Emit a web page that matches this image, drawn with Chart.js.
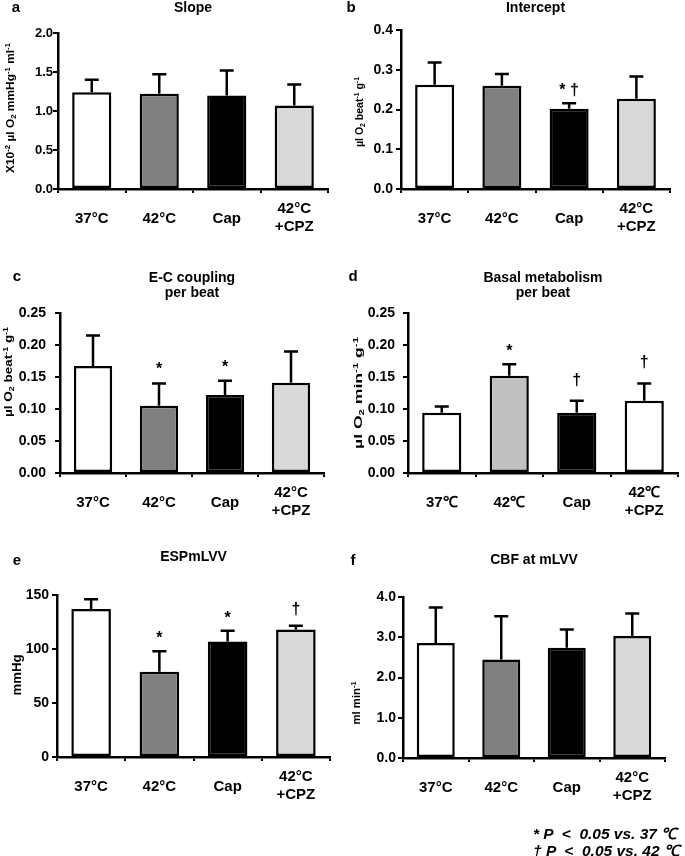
<!DOCTYPE html>
<html>
<head>
<meta charset="utf-8">
<script src="https://cdn.jsdelivr.net/npm/chart.js@4.4.1/dist/chart.umd.min.js"></script>
<style>
  html, body { margin: 0; padding: 0; background: #fff; }
  #wrap { position: relative; width: 685px; height: 856px; overflow: hidden; }
  canvas { position: absolute; }
  .note { position: absolute; left: 533px; font: italic bold 15.5px "Liberation Sans", Arial, sans-serif; white-space: pre; color: #000; }
</style>
</head>
<body>
<div id="wrap">
  <canvas id="cA"></canvas>
  <canvas id="cB"></canvas>
  <canvas id="cC"></canvas>
  <canvas id="cD"></canvas>
  <canvas id="cE"></canvas>
  <canvas id="cF"></canvas>
  <div class="note" style="top:822px">* P  &lt;  0.05 vs. 37 ℃</div>
  <div class="note" style="top:839px">† P  &lt;  0.05 vs. 42 ℃</div>
</div>
<script>
// groups
const categories = ['37°C', '42°C', 'Cap', ['42°C', '+CPZ']];
const categoriesD = ['37℃', '42℃', 'Cap', ['42℃', '+CPZ']];

// a: Slope
const slopeMean = [1.24, 1.22, 1.20, 1.07];
const slopeSD = [0.16, 0.25, 0.32, 0.27];
// b: Intercept
const interceptMean = [0.262, 0.260, 0.202, 0.227];
const interceptSD = [0.056, 0.029, 0.014, 0.056];
const interceptMarks = ['', '', '* †', ''];
// c: E-C coupling per beat
const ecMean = [0.167, 0.105, 0.122, 0.141];
const ecSD = [0.048, 0.035, 0.022, 0.049];
const ecMarks = ['', '*', '*', ''];
// d: Basal metabolism per beat
const basalMean = [0.094, 0.152, 0.094, 0.113];
const basalSD = [0.010, 0.018, 0.019, 0.027];
const basalMarks = ['', '*', '†', '†'];
// e: ESPmLVV
const espMean = [137, 79, 107, 118];
const espSD = [9, 19, 10, 3.5];
const espMarks = ['', '*', '*', '†'];
// f: CBF at mLVV
const cbfMean = [2.86, 2.45, 2.74, 3.03];
const cbfSD = [0.88, 1.07, 0.45, 0.56];

// fills
const fillStd = ['#ffffff', '#808080', '#000000', '#d9d9d9'];
const fillD = ['#ffffff', '#c0c0c0', '#000000', '#ffffff'];

const FONT = '"Liberation Sans", Arial, sans-serif';

// "a^{-1}" = superscript, "O_{2}" = subscript
function parseRich(str) {
    const segs = [];
    const re = /([\^_])\{([^}]*)\}|([^\^_]+)/g;
    let m;
    while ((m = re.exec(str)) !== null) {
        if (m[3]) segs.push({ t: m[3], k: 0 });
        else segs.push({ t: m[2], k: m[1] === '^' ? 1 : -1 });
    }
    return segs;
}

function drawRich(ctx, str, size, len) {
    const segs = parseRich(str);
    const small = size * 0.65;
    let w = 0;
    segs.forEach(s => {
        ctx.font = 'bold ' + (s.k ? small : size) + 'px ' + FONT;
        s.w = ctx.measureText(s.t).width;
        w += s.w;
    });
    ctx.scale(len / w, 1);
    ctx.textAlign = 'left';
    ctx.textBaseline = 'alphabetic';
    let x = -w / 2;
    const base = size * 0.36;
    segs.forEach(s => {
        ctx.font = 'bold ' + (s.k ? small : size) + 'px ' + FONT;
        const dy = s.k === 1 ? -size * 0.38 : s.k === -1 ? size * 0.2 : 0;
        ctx.fillText(s.t, x, base + dy);
        x += s.w;
    });
}

// draws error bars, markers, titles and x labels on each panel
const panelText = {
    id: 'panelText',
    afterDatasetsDraw(chart, args, o) {
        const p = o.p;
        const ctx = chart.ctx;
        const ys = chart.scales.y;
        const meta = chart.getDatasetMeta(0);
        ctx.save();
        ctx.strokeStyle = '#000';
        ctx.lineWidth = 2.5;
        p.mean.forEach((m, i) => {
            const x = meta.data[i].x;
            const yb = ys.getPixelForValue(m);
            const yt = ys.getPixelForValue(m + p.sd[i]);
            ctx.beginPath();
            ctx.moveTo(x, yb);
            ctx.lineTo(x, yt);
            ctx.moveTo(x - 7, yt);
            ctx.lineTo(x + 7, yt);
            ctx.stroke();
            const mk = p.marks ? p.marks[i] : '';
            if (mk) {
                ctx.fillStyle = '#000';
                ctx.font = 'bold 16px ' + FONT;
                ctx.textAlign = 'center';
                ctx.textBaseline = 'alphabetic';
                const gap = mk === '*' ? p.gapStar : p.gapDag;
                ctx.fillText(mk, x, yt - gap);
            }
        });
        ctx.restore();
    },
    afterDraw(chart, args, o) {
        const p = o.p;
        const ctx = chart.ctx;
        const area = chart.chartArea;
        const meta = chart.getDatasetMeta(0);
        ctx.save();
        ctx.fillStyle = '#000';
        ctx.textAlign = 'center';
        ctx.textBaseline = 'middle';
        // panel letter
        ctx.font = 'bold 15px ' + FONT;
        ctx.fillText(p.letter, p.letterX - p.x0, p.letterY - p.y0);
        // title
        ctx.font = 'bold 14px ' + FONT;
        const cx = (area.left + area.right) / 2;
        p.title.forEach((t, k) => ctx.fillText(t, cx, p.titleY - p.y0 + k * 15));
        // x labels
        ctx.font = 'bold 15px ' + FONT;
        p.labels.forEach((lab, i) => {
            const x = meta.data[i].x;
            if (Array.isArray(lab)) {
                ctx.fillText(lab[0], x, area.bottom + 20);
                ctx.fillText(lab[1], x, area.bottom + 38);
            } else {
                ctx.fillText(lab, x, area.bottom + 30);
            }
        });
        // y title
        ctx.translate(p.yTitleX - p.x0, p.yTitleY - p.y0);
        ctx.rotate(-Math.PI / 2);
        drawRich(ctx, p.yTitle, p.yTitleSize, p.yTitleLen);
        ctx.restore();
    }
};

function makePanel(id, p) {
    const cv = document.getElementById(id);
    cv.width = p.w;
    cv.height = p.h;
    cv.style.left = p.x0 + 'px';
    cv.style.top = p.y0 + 'px';
    const xAxisH = 6;
    new Chart(cv, {
        type: 'bar',
        data: {
            labels: p.labels.map(l => Array.isArray(l) ? l.join(' ') : l),
            datasets: [{
                data: p.mean,
                backgroundColor: p.fill,
                borderColor: '#000',
                borderWidth: 2.5,
                borderSkipped: false,
                barPercentage: 0.58,
                categoryPercentage: 1
            }]
        },
        options: {
            responsive: false,
            animation: false,
            devicePixelRatio: 1,
            layout: {
                autoPadding: false,
                padding: {
                    left: 0,
                    top: p.area.t - p.y0,
                    right: p.x0 + p.w - p.area.r,
                    bottom: p.y0 + p.h - p.area.b - xAxisH
                }
            },
            plugins: {
                legend: { display: false },
                tooltip: { enabled: false },
                panelText: { p: p }
            },
            scales: {
                x: {
                    afterFit: s => { s.height = xAxisH; },
                    border: { display: true, color: '#000', width: 2.5 },
                    grid: { offset: true, drawOnChartArea: false, tickLength: 4, color: '#000', lineWidth: 2 },
                    ticks: { display: false }
                },
                y: {
                    min: p.min,
                    max: p.max,
                    afterFit: s => { s.width = p.area.l - p.x0; },
                    border: { display: true, color: '#000', width: 2.5 },
                    grid: { drawOnChartArea: false, tickLength: 5, color: '#000', lineWidth: 2 },
                    ticks: {
                        stepSize: p.step,
                        color: '#000',
                        padding: p.tickPad,
                        font: { family: FONT, size: p.tickSize, weight: 'bold' },
                        callback: v => Number(v).toFixed(p.dec)
                    }
                }
            }
        },
        plugins: [panelText]
    });
}

makePanel('cA', {
    x0: 0, y0: 0, w: 340, h: 240, area: { l: 58, t: 33, r: 328, b: 189 },
    min: 0, max: 2.0, step: 0.5, dec: 1, tickSize: 13, tickPad: 0,
    mean: slopeMean, sd: slopeSD, fill: fillStd, labels: categories,
    letter: 'a', letterX: 16, letterY: 8, title: ['Slope'], titleY: 8,
    yTitle: 'X10^{-2} µl O_{2} mmHg^{-1} ml^{-1}', yTitleSize: 11, yTitleLen: 130, yTitleX: 10, yTitleY: 108
});
makePanel('cB', {
    x0: 340, y0: 0, w: 345, h: 240, area: { l: 401, t: 30, r: 670, b: 189 },
    min: 0, max: 0.4, step: 0.1, dec: 1, tickSize: 14, tickPad: 3,
    mean: interceptMean, sd: interceptSD, fill: fillStd, labels: categories,
    marks: interceptMarks, gapStar: 8, gapDag: 8,
    letter: 'b', letterX: 351, letterY: 8, title: ['Intercept'], titleY: 8,
    yTitle: 'µl O_{2} beat^{-1} g^{-1}', yTitleSize: 11, yTitleLen: 70, yTitleX: 359, yTitleY: 112
});
makePanel('cC', {
    x0: 0, y0: 240, w: 340, h: 285, area: { l: 60, t: 313, r: 324, b: 473 },
    min: 0, max: 0.25, step: 0.05, dec: 2, tickSize: 14, tickPad: 9,
    mean: ecMean, sd: ecSD, fill: fillStd, labels: categories,
    marks: ecMarks, gapStar: 9, gapDag: 12,
    letter: 'c', letterX: 17, letterY: 277, title: ['E-C coupling', 'per beat'], titleY: 278,
    yTitle: 'µl O_{2} beat^{-1} g^{-1}', yTitleSize: 11.5, yTitleLen: 90, yTitleX: 8, yTitleY: 372
});
makePanel('cD', {
    x0: 340, y0: 240, w: 345, h: 285, area: { l: 408, t: 313, r: 678, b: 473 },
    min: 0, max: 0.25, step: 0.05, dec: 2, tickSize: 14, tickPad: 8,
    mean: basalMean, sd: basalSD, fill: fillD, labels: categoriesD,
    marks: basalMarks, gapStar: 8, gapDag: 16,
    letter: 'd', letterX: 353, letterY: 277, title: ['Basal metabolism', 'per beat'], titleY: 278,
    yTitle: 'µl O_{2} min^{-1} g^{-1}', yTitleSize: 11, yTitleLen: 112, yTitleX: 358, yTitleY: 393
});
makePanel('cE', {
    x0: 0, y0: 525, w: 340, h: 331, area: { l: 57, t: 595, r: 330, b: 757 },
    min: 0, max: 150, step: 50, dec: 0, tickSize: 14, tickPad: 3,
    mean: espMean, sd: espSD, fill: fillStd, labels: categories,
    marks: espMarks, gapStar: 8, gapDag: 12,
    letter: 'e', letterX: 17, letterY: 561, title: ['ESPmLVV'], titleY: 557,
    yTitle: 'mmHg', yTitleSize: 13, yTitleLen: 41, yTitleX: 16, yTitleY: 675
});
makePanel('cF', {
    x0: 340, y0: 525, w: 345, h: 331, area: { l: 403, t: 597, r: 665, b: 758 },
    min: 0, max: 4.0, step: 1.0, dec: 1, tickSize: 14, tickPad: 2,
    mean: cbfMean, sd: cbfSD, fill: fillStd, labels: categories,
    letter: 'f', letterX: 353, letterY: 561, title: ['CBF at mLVV'], titleY: 560,
    yTitle: 'ml min^{-1}', yTitleSize: 11, yTitleLen: 43, yTitleX: 356, yTitleY: 703
});
</script>
</body>
</html>
